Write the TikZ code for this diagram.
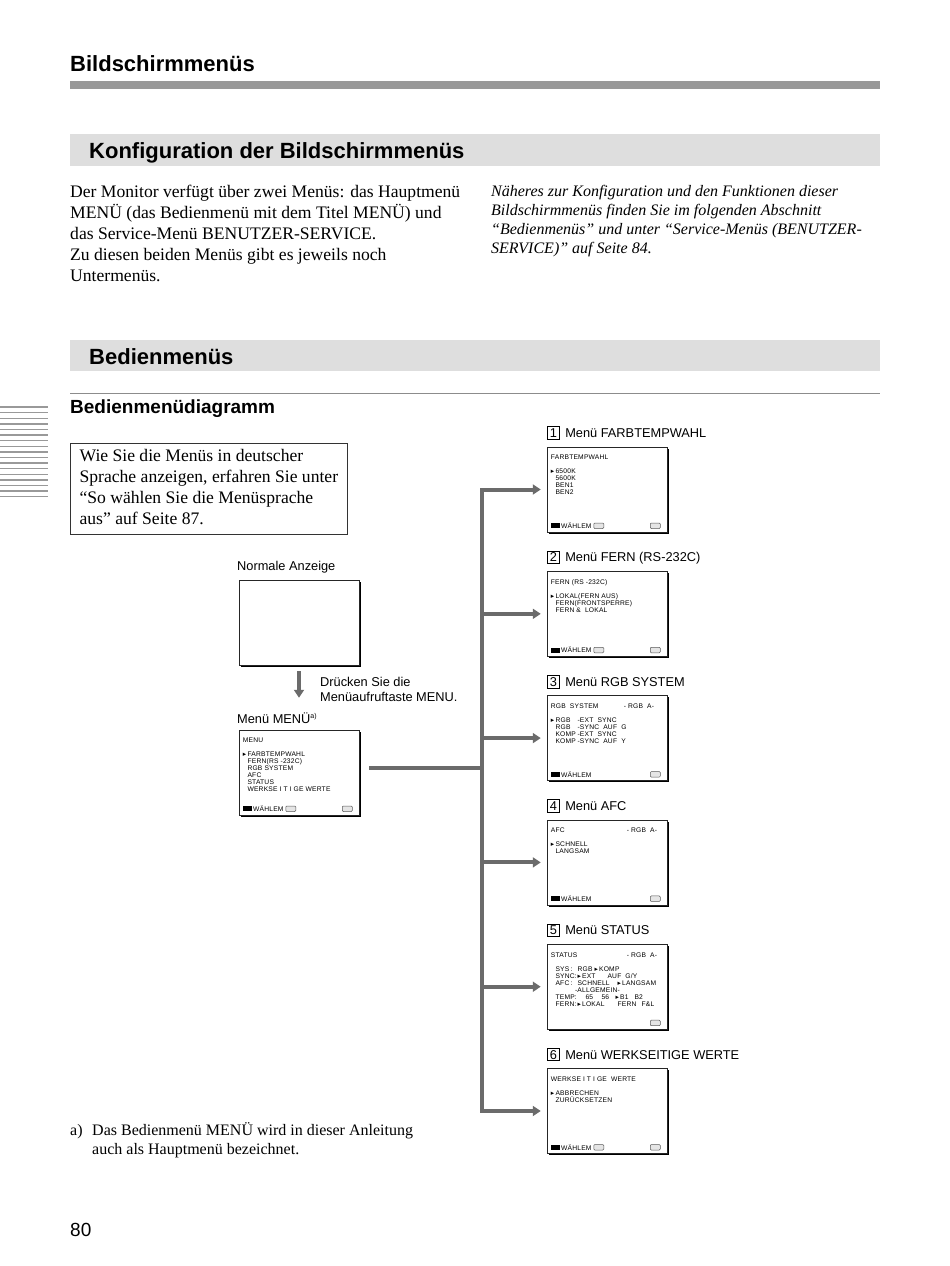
\documentclass[tikz,border=0pt]{standalone}
\usepackage{fontspec}
\setmainfont{Liberation Serif}
\setsansfont{Liberation Sans}
\newfontfamily\symf{DejaVu Sans}
\newfontfamily\scrf[LetterSpace=3]{Liberation Sans}
\usetikzlibrary{arrows.meta,positioning,calc,shadows}
\newcommand{\selmark}{\makebox[4.6pt][l]{\symf ▸}}
\newcommand{\nomark}{\hspace*{4.6pt}}
\newcommand{\scell}[2]{\makebox[#1pt][l]{#2}}
% Fusszeile eines Bildschirms
\newcommand{\waehlen}[1]{%
  \node[selicon] (#1i) at ($(#1.south west)+(8.5,-6.5)$) {};
  \node[scr, anchor=west] (#1w) at ([xshift=1pt]#1i.east) {WÄHLEM};}
\newcommand{\exitbox}[1]{\node[keybox] (#1x) at ($(#1.south west)+(52,-6.5)$) {};}
\newcommand{\menubox}[1]{\node[keybox] (#1m) at ($(#1.south east)+(-12,-6.5)$) {};}

\begin{document}
\begin{tikzpicture}[x=1pt, y=-1pt,
    h1/.style={font=\sffamily\bfseries\fontsize{22}{26}\selectfont, anchor=base west, inner sep=0},
    h3/.style={font=\sffamily\bfseries\fontsize{19}{23}\selectfont, anchor=base west, inner sep=0},
    body/.style={font=\fontsize{17.6}{21}\selectfont, align=left, anchor=north west, inner sep=0},
    lbl/.style={font=\sffamily\fontsize{12.8}{15}\selectfont, inner sep=0},
    num/.style={draw, line width=0.8pt, font=\sffamily\fontsize{12.8}{15}\selectfont, inner sep=0, minimum size=12.5pt},
    screen/.style={draw=black!85, line width=0.5pt, fill=white, minimum width=120pt, minimum height=85pt, inner sep=0,
        general shadow={fill=black, shadow xshift=1.6pt, shadow yshift=-1.6pt}},
    scr/.style={font=\scrf\fontsize{6.7}{7}\selectfont, align=left, anchor=north west, inner sep=0},
    selicon/.style={fill=black, minimum width=9pt, minimum height=5pt, inner sep=0},
    keybox/.style={draw=black!65, fill=black!10, rounded corners=1pt, line width=0.5pt, minimum width=10pt, minimum height=5.5pt, inner sep=0},
    conn/.style={draw=black!58, line width=4pt},
    tip/.style={-{Triangle[length=8pt,width=10pt]}}
]
\useasboundingbox (0,0) rectangle (950,1266);

% Kopf
\node[h1] (title) at (70,71) {Bildschirmmenüs};
\fill[black!40] (70,81) rectangle (880,89);
\fill[black!13] (70,134) rectangle (880,166);
\node[h1] (konf) at (89,158) {Konfiguration der Bildschirmmenüs};

\node[body] (intro) at (70,182.3) {\strut Der Monitor verfügt über zwei Menüs: das Hauptmenü\\
    MENÜ (das Bedienmenü mit dem Titel MENÜ) und\\
    das Service-Menü BENUTZER-SERVICE.\\
    Zu diesen beiden Menüs gibt es jeweils noch\\
    Untermenüs.};
\node[body, font=\fontsize{16}{19}\selectfont\itshape] (hint) at (491,183) {\strut Näheres zur Konfiguration und den Funktionen dieser\\
    Bildschirmmenüs finden Sie im folgenden Abschnitt\\
    “Bedienmenüs” und unter “Service-Menüs (BENUTZER-\\
    SERVICE)” auf Seite 84.};

\fill[black!13] (70,340) rectangle (880,371);
\node[h1] (bed) at (89,364) {Bedienmenüs};
\draw[black!45, line width=0.8pt] (70,393) -- (880,393);
\node[h3] (diag) at (70,413) {Bedienmenüdiagramm};
\foreach \y in {407,412.6,...,498}
    \draw[black!40, line width=1.4pt] (0,\y) -- (48,\y);

\node[draw=black!80, line width=0.7pt, anchor=north west, minimum width=277pt, minimum height=91pt,
    align=left, inner sep=0, font=\fontsize{17.6}{20.7}\selectfont] (note) at (70,443)
    {\strut Wie Sie die Menüs in deutscher\\
    Sprache anzeigen, erfahren Sie unter\\
    “So wählen Sie die Menüsprache\\
    aus” auf Seite 87.\strut};

% normale Anzeige und Hauptmenue
\node[lbl, anchor=base west] (normlbl) at (237,570) {Normale Anzeige};
\node[screen] (s0) at (299,622.5) {};
\node[lbl, anchor=base west] (mlbl) at (237,723) {Menü MENÜ\textsuperscript{\fontsize{7}{8}\selectfont a)}};
\node[screen] (sm) at (299,772.5) {};
\draw[conn, tip, shorten <=6pt, shorten >=32pt] (s0.south) -- (sm.north);
\node[lbl, anchor=north west, align=left] (press) at (320,675.5) {\strut Drücken Sie die\\Menüaufruftaste MENU.};

\node[scr] (smt) at ($(sm.north west)+(4,8.3)$) {MENU\\[7pt]
    \selmark FARBTEMPWAHL\\ \nomark FERN(RS -232C)\\ \nomark RGB SYSTEM\\
    \nomark AFC\\ \nomark STATUS\\ \nomark WERKSE I T I GE WERTE};
\waehlen{sm} \exitbox{sm} \menubox{sm}

% Untermenues
\node[screen] (s1) at (607,489.5) {};
\node[screen, below=38.8pt of s1] (s2) {};
\node[screen, below=38.8pt of s2] (s3) {};
\node[screen, below=38.8pt of s3] (s4) {};
\node[screen, below=38.8pt of s4] (s5) {};
\node[screen, below=38.8pt of s5] (s6) {};

\node[num, anchor=south west] (n1) at ([yshift=7pt]s1.north west) {1};
\node[lbl, anchor=base west] (t1) at ($(n1.base east)+(5,0)$) {Menü FARBTEMPWAHL};
\node[num, anchor=south west] (n2) at ([yshift=7pt]s2.north west) {2};
\node[lbl, anchor=base west] (t2) at ($(n2.base east)+(5,0)$) {Menü FERN (RS-232C)};
\node[num, anchor=south west] (n3) at ([yshift=7pt]s3.north west) {3};
\node[lbl, anchor=base west] (t3) at ($(n3.base east)+(5,0)$) {Menü RGB SYSTEM};
\node[num, anchor=south west] (n4) at ([yshift=7pt]s4.north west) {4};
\node[lbl, anchor=base west] (t4) at ($(n4.base east)+(5,0)$) {Menü AFC};
\node[num, anchor=south west] (n5) at ([yshift=7pt]s5.north west) {5};
\node[lbl, anchor=base west] (t5) at ($(n5.base east)+(5,0)$) {Menü STATUS};
\node[num, anchor=south west] (n6) at ([yshift=7pt]s6.north west) {6};
\node[lbl, anchor=base west] (t6) at ($(n6.base east)+(5,0)$) {Menü WERKSEITIGE WERTE};

\node[scr] (s1t) at ($(s1.north west)+(4,8.3)$) {FARBTEMPWAHL\\[7pt]
    \selmark 6500K\\ \nomark 5600K\\ \nomark BEN1\\ \nomark BEN2};
\waehlen{s1} \exitbox{s1} \menubox{s1}

\node[scr] (s2t) at ($(s2.north west)+(4,8.3)$) {FERN (RS -232C)\\[7pt]
    \selmark LOKAL(FERN AUS)\\ \nomark FERN(FRONTSPERRE)\\ \nomark FERN \& \ LOKAL};
\waehlen{s2} \exitbox{s2} \menubox{s2}

\node[scr] (s3t) at ($(s3.north west)+(4,8.3)$) {RGB \ SYSTEM\\[7pt]
    \selmark\scell{22}{RGB}-EXT \ SYNC\\ \nomark\scell{22}{RGB}-SYNC \ AUF \ G\\
    \nomark\scell{22}{KOMP}-EXT \ SYNC\\ \nomark\scell{22}{KOMP}-SYNC \ AUF \ Y};
\node[scr, anchor=north east] (s3r) at ($(s3.north east)+(-13,8.3)$) {- RGB \ A-};
\waehlen{s3} \menubox{s3}

\node[scr] (s4t) at ($(s4.north west)+(4,8.3)$) {AFC\\[7pt]
    \selmark SCHNELL\\ \nomark LANGSAM};
\node[scr, anchor=north east] (s4r) at ($(s4.north east)+(-10,8.3)$) {- RGB \ A-};
\waehlen{s4} \menubox{s4}

\node[scr] (s5t) at ($(s5.north west)+(4,8.3)$) {STATUS\\[7pt]
    \nomark\scell{15}{SYS}\scell{7}{:}\scell{17}{RGB}\selmark KOMP\\
    \nomark\scell{22}{SYNC:}\scell{30}{\selmark EXT}AUF \ G/Y\\
    \nomark\scell{15}{AFC}\scell{7}{:}\scell{40}{SCHNELL}\selmark LANGSAM\\
    \nomark\hspace*{19.5pt}-ALLGEMEIN-\\
    \nomark\scell{30}{TEMP:}\scell{16}{65}\scell{14}{56}\scell{19}{\selmark B1}B2\\
    \nomark\scell{22}{FERN:}\scell{40}{\selmark LOKAL}\scell{24}{FERN}F\&L};
\node[scr, anchor=north east] (s5r) at ($(s5.north east)+(-10,8.3)$) {- RGB \ A-};
\menubox{s5}

\node[scr] (s6t) at ($(s6.north west)+(4,8.3)$) {WERKSE I T I GE \ WERTE\\[7pt]
    \selmark ABBRECHEN\\ \nomark ZURÜCKSETZEN};
\waehlen{s6} \exitbox{s6} \menubox{s6}

% Verbindungen
\coordinate (trunk) at (481.5,768);
\draw[conn] ($(sm.east |- trunk)+(10,0)$) -- (trunk);
\draw[conn, line cap=rect] (trunk |- s1.west) -- (trunk |- s6.west);
\draw[conn, tip, shorten >=6pt] (trunk |- s1.west) -- (s1.west);
\draw[conn, tip, shorten >=6pt] (trunk |- s2.west) -- (s2.west);
\draw[conn, tip, shorten >=6pt] (trunk |- s3.west) -- (s3.west);
\draw[conn, tip, shorten >=6pt] (trunk |- s4.west) -- (s4.west);
\draw[conn, tip, shorten >=6pt] (trunk |- s5.west) -- (s5.west);
\draw[conn, tip, shorten >=6pt] (trunk |- s6.west) -- (s6.west);

% Fussnote
\node[inner sep=0, anchor=base west, font=\fontsize{16}{19}\selectfont] (fna) at (70,1135) {a)};
\node[body, font=\fontsize{16}{19}\selectfont] (fn) at (92,1121.7) {\strut Das Bedienmenü MENÜ wird in dieser Anleitung\\
    auch als Hauptmenü bezeichnet.};
\node[inner sep=0, anchor=base west, font=\sffamily\fontsize{19}{22}\selectfont] (page) at (70,1236) {80};
\end{tikzpicture}
\end{document}
